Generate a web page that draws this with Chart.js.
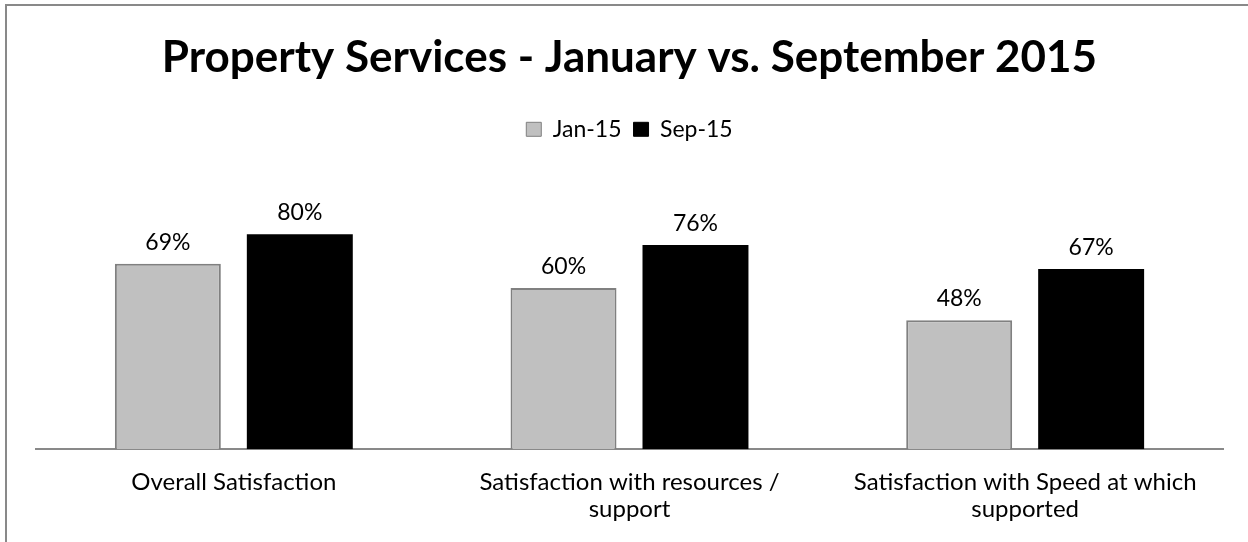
<!DOCTYPE html>
<html>
<head>
<meta charset="utf-8">
<script src="https://cdn.jsdelivr.net/npm/chart.js@4.4.1/dist/chart.umd.min.js"></script>
<style>
  html, body { margin: 0; padding: 0; background: #fff; }
  #wrap { width: 1248px; height: 542px; position: relative; }
</style>
</head>
<body>
<div id="wrap"><canvas id="chart" width="1248" height="542"></canvas></div>
<script>
const categories = [
  ["Overall Satisfaction"],
  ["Satisfaction with resources /", "support"],
  ["Satisfaction with Speed at which", "supported"]
];
const jan15 = [69, 60, 48];
const sep15 = [80, 76, 67];
const seriesNames = ["Jan-15", "Sep-15"];

const FONT = "Lato, 'Open Sans', sans-serif";

// gray frame along the top and left edge
const framePlugin = {
  id: "frame",
  beforeDraw(chart) {
    const ctx = chart.ctx;
    ctx.save();
    ctx.strokeStyle = "#898989";
    ctx.lineWidth = 2;
    ctx.beginPath();
    ctx.moveTo(6, 542);
    ctx.lineTo(6, 5);
    ctx.lineTo(1248, 5);
    ctx.stroke();
    ctx.restore();
  }
};

// percentage text above each bar
const valueLabels = {
  id: "valueLabels",
  afterDatasetsDraw(chart) {
    const ctx = chart.ctx;
    ctx.save();
    ctx.font = "23px " + FONT;
    ctx.fillStyle = "#000";
    ctx.textAlign = "center";
    ctx.textBaseline = "alphabetic";
    chart.data.datasets.forEach((ds, i) => {
      chart.getDatasetMeta(i).data.forEach((bar, j) => {
        ctx.fillText(ds.data[j] + "%", bar.x, bar.y - 14);
      });
    });
    ctx.restore();
  }
};

new Chart(document.getElementById("chart"), {
  type: "bar",
  data: {
    labels: categories,
    datasets: [
      {
        label: seriesNames[0],
        data: jan15,
        backgroundColor: "#c0c0c0",
        borderColor: "#808080",
        borderWidth: 2,
        categoryPercentage: 0.667,
        barPercentage: 0.803
      },
      {
        label: seriesNames[1],
        data: sep15,
        backgroundColor: "#000000",
        borderColor: "#000000",
        borderWidth: 0,
        categoryPercentage: 0.667,
        barPercentage: 0.803
      }
    ]
  },
  options: {
    responsive: false,
    animation: false,
    layout: { padding: { left: 36, right: 25, top: 0, bottom: 0 } },
    plugins: {
      title: {
        display: true,
        text: "Property Services - January vs. September 2015",
        color: "#000",
        font: { family: FONT, size: 44, weight: "bold" },
        padding: { top: 31, bottom: 22 }
      },
      legend: {
        position: "top",
        labels: {
          color: "#000",
          font: { family: FONT, size: 23 },
          boxWidth: 15,
          boxHeight: 14,
          padding: 12,
          generateLabels(chart) {
            return chart.data.datasets.map((ds, i) => ({
              text: ds.label,
              fillStyle: ds.backgroundColor,
              strokeStyle: i === 0 ? "#808080" : "#000",
              lineWidth: 1,
              datasetIndex: i
            }));
          }
        }
      },
      tooltip: { enabled: false }
    },
    scales: {
      x: {
        grid: { display: false, drawTicks: false },
        border: { display: true, color: "#898989", width: 2 },
        ticks: {
          color: "#000",
          padding: 20,
          font: { family: FONT, size: 24, lineHeight: 1.1 },
          maxRotation: 0,
          autoSkip: false
        }
      },
      y: {
        display: false,
        min: 0,
        max: 111
      }
    }
  },
  plugins: [framePlugin, valueLabels]
});
</script>
</body>
</html>
